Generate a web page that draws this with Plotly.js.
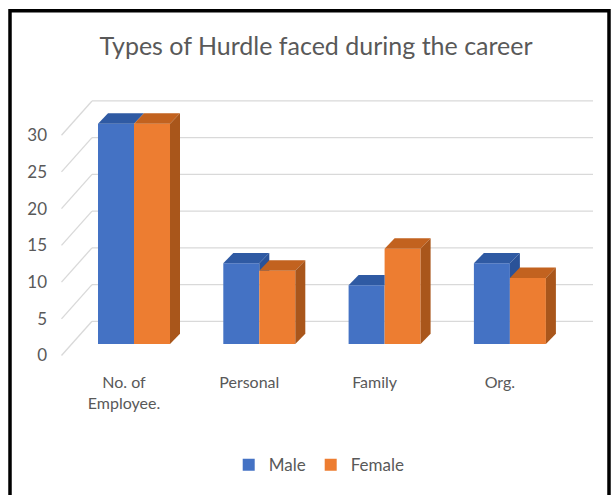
<!DOCTYPE html>
<html>
<head>
<meta charset="utf-8">
<script src="https://cdn.plot.ly/plotly-3.0.1.min.js"></script>
<style>html,body{margin:0;padding:0;background:#fff;}#chart{width:613px;height:495px;}</style>
</head>
<body>
<div id="chart"></div>
<script>
// ---- data ----
const categories = ['No. of<br>Employee.', 'Personal', 'Family', 'Org.'];
const seriesNames = ['Male', 'Female'];
const male = [30, 11, 8, 11];
const female = [30, 10, 13, 9];
const yTicks = [0, 5, 10, 15, 20, 25, 30];
const titleText = 'Types of Hurdle faced during the career';

// ---- styling / 3D projection constants (pixel based) ----
const PX_X = 125.3, PX_Y = 7.4;
const W = 36 / PX_X;            // bar width
const SHIFT = 10 / PX_X;        // bar plane offset from front floor edge (x)
const BASE = 11.5 / PX_Y;       // bar plane offset (y)
const DX = 10 / PX_X, DY = 10.5 / PX_Y;   // bar depth
const FRONT_LEFT = (61.5 - 124) / PX_X;
const WALL_DX = 30.5 / PX_X, WALL_DY = 34.5 / PX_Y;
const WALL_RIGHT = (593 - 124) / PX_X;
const XR = [(60 - 124) / PX_X, (595 - 124) / PX_X];
const YR = [(357.5 - 362) / PX_Y, (357.5 - 95) / PX_Y];

const C = {
  maleFront: '#4472C4', maleTop: '#2F5AA3', maleSide: '#2A5298',
  femFront: '#ED7D31', femTop: '#C2621F', femSide: '#A9561B',
  grid: '#D9D9D9', text: '#595959'
};
const FONT = 'Lato, Liberation Sans, sans-serif';

const idx = categories.map((_, i) => i);
const traces = [];

traces.push({type: 'bar', name: seriesNames[0], x: idx, y: male, base: BASE,
  offset: SHIFT - W, width: W, marker: {color: C.maleFront, line: {width: 0}},
  hovertemplate: '%{y}<extra>Male</extra>'});
traces.push({type: 'bar', name: seriesNames[1], x: idx, y: female, base: BASE,
  offset: SHIFT, width: W, marker: {color: C.femFront, line: {width: 0}},
  hovertemplate: '%{y}<extra>Female</extra>'});

function poly(pts, color) {
  const xs = pts.map(p => p[0]); const ys = pts.map(p => p[1]);
  xs.push(pts[0][0]); ys.push(pts[0][1]);
  traces.push({type: 'scatter', mode: 'lines', x: xs, y: ys, fill: 'toself',
    fillcolor: color, line: {width: 0, color: color}, hoverinfo: 'skip', showlegend: false});
}

idx.forEach(i => {
  const xl = i + SHIFT - W, xm = i + SHIFT, xr = i + SHIFT + W;
  const tm = BASE + male[i], tf = BASE + female[i];
  // male top
  if (tf <= tm) {
    poly([[xl, tm], [xm, tm], [xm + DX, tm + DY], [xl + DX, tm + DY]], C.maleTop);
  } else if (tf >= tm + DY) {
    poly([[xl, tm], [xm, tm], [xm, tm + DY], [xl + DX, tm + DY]], C.maleTop);
  } else {
    poly([[xl, tm], [xm, tm], [xm, tf], [xm + DX * (tf - tm) / DY, tf], [xm + DX, tm + DY], [xl + DX, tm + DY]], C.maleTop);
  }
  // male side (only the part above the female bar)
  if (tm > tf) {
    poly([[xm, tf], [xm + DX, Math.max(tf, BASE + DY)], [xm + DX, tm + DY], [xm, tm]], C.maleSide);
  }
  // female top and side
  poly([[xm, tf], [xr, tf], [xr + DX, tf + DY], [xm + DX, tf + DY]], C.femTop);
  poly([[xr, BASE], [xr + DX, BASE + DY], [xr + DX, tf + DY], [xr, tf]], C.femSide);
});

// back wall gridlines + side-wall diagonals
const shapes = [];
yTicks.forEach(v => {
  shapes.push({type: 'line', layer: 'below', xref: 'x', yref: 'y',
    x0: FRONT_LEFT, y0: v, x1: FRONT_LEFT + WALL_DX, y1: v + WALL_DY,
    line: {color: C.grid, width: 1.3}});
  shapes.push({type: 'line', layer: 'below', xref: 'x', yref: 'y',
    x0: FRONT_LEFT + WALL_DX, y0: v + WALL_DY, x1: WALL_RIGHT, y1: v + WALL_DY,
    line: {color: C.grid, width: 1.3}});
});
// outer frame
const PL = 60, PW = 535, PT = 95, PH = 267;
shapes.push({type: 'rect', layer: 'above', xref: 'paper', yref: 'paper',
  x0: (10 - PL) / PW, x1: (609 - PL) / PW, y0: ((PT + PH) - 520) / PH, y1: ((PT + PH) - 10) / PH,
  line: {color: '#000', width: 3.5}, fillcolor: 'rgba(0,0,0,0)'});

const layout = {
  width: 613, height: 495,
  margin: {l: PL, r: 613 - PL - PW, t: PT, b: 495 - PT - PH},
  paper_bgcolor: '#fff', plot_bgcolor: 'rgba(0,0,0,0)',
  barmode: 'overlay',
  showlegend: true,
  title: {text: titleText, font: {family: FONT, size: 25, color: C.text},
    x: 316 / 613, xanchor: 'center', y: 1 - 46 / 495, yanchor: 'middle'},
  xaxis: {range: XR, tickvals: idx, ticktext: categories, showgrid: false, zeroline: false,
    showline: false, ticks: '', ticklabelstandoff: 11, tickfont: {family: FONT, size: 16, color: C.text}, fixedrange: true},
  yaxis: {range: YR, tickvals: yTicks, showgrid: false, zeroline: false, showline: false,
    ticks: '', ticklabelstandoff: 12, tickfont: {family: FONT, size: 17, color: C.text}, fixedrange: true},
  legend: {orientation: 'h', x: 297 / 613 , xref: 'paper', xanchor: 'center',
    y: ((PT + PH) - 468) / PH, yanchor: 'middle', itemwidth: 30,
    font: {family: FONT, size: 17, color: C.text}, traceorder: 'normal'},
  shapes: shapes
};

Plotly.newPlot('chart', traces, layout, {displayModeBar: false, staticPlot: true});
</script>
</body>
</html>
